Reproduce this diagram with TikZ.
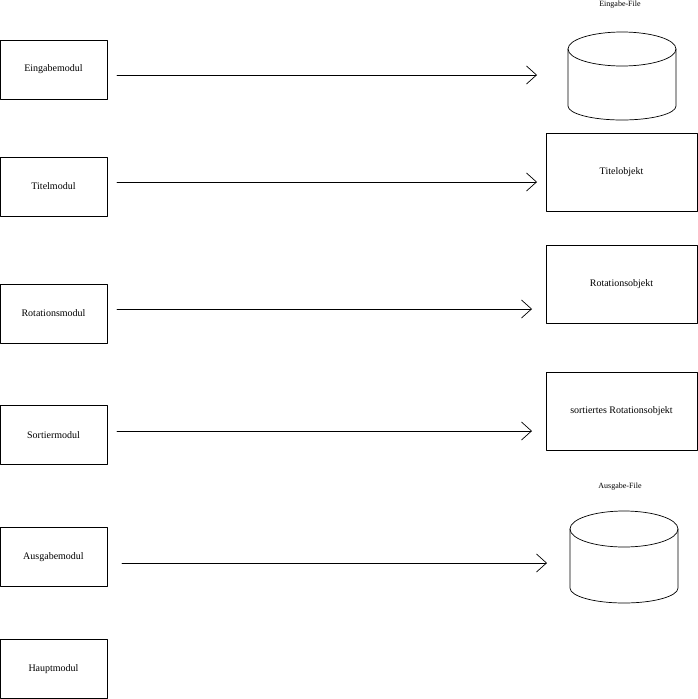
\documentclass[tikz,border=0pt]{standalone}
\usepackage{fontspec}
\setmainfont{Liberation Serif}
\usetikzlibrary{arrows.meta}

\begin{document}
\begin{tikzpicture}[x=1pt, y=-1pt, line cap=round, line join=round,
    modul/.style={draw, line width=0.7pt, minimum width=107pt, minimum height=59pt, inner sep=0pt},
    objekt/.style={draw, line width=0.7pt, minimum width=151pt, minimum height=78pt, inner sep=0pt},
    pfeil/.style={-{Straight Barb[length=10pt,width=18pt]}, line width=0.7pt},
    tonne/.style={line width=0.7pt}]
  \def\rx{54}

  % Rahmen
  \useasboundingbox (0,0) rectangle (698,699);

  % Module links
  \node[modul] (eingabe) at (53.5,69.5) {Eingabemodul};
  \node[modul] (titel)   at (53.5,186.5) {Titelmodul};
  \node[modul] (rotation) at (53.5,313.5) {Rotationsmodul};
  \node[modul] (sortier) at (53.5,435) {Sortiermodul};
  \node[modul] (ausgabe) at (53.5,557) {Ausgabemodul};
  \node[modul] (haupt)   at (53.5,669) {Hauptmodul};

  % Objekte rechts
  \node[objekt] (titelobj) at (621.5,172) {Titelobjekt};
  \node[objekt] (rotobj)   at (621.5,284) {Rotationsobjekt};
  \node[objekt] (sortobj)  at (621.5,411) {sortiertes Rotationsobjekt};

  % Eingabe-File
  \draw[tonne] (622,49) ellipse [x radius=\rx, y radius=17];
  \draw[tonne] (568,49) -- (568,106) arc[start angle=180, end angle=0, x radius=\rx, y radius=14] -- (676,49);
  \node (einfile) at (620,5) {\footnotesize Eingabe-File};

  % Ausgabe-File
  \draw[tonne] (624,529) ellipse [x radius=\rx, y radius=18];
  \draw[tonne] (570,529) -- (570,588) arc[start angle=180, end angle=0, x radius=\rx, y radius=15] -- (678,529);
  \node (ausfile) at (620,487) {\footnotesize Ausgabe-File};

  % Pfeile
  \coordinate (e1) at (117,75);  \coordinate (f1) at (537,75);
  \coordinate (e2) at (117,182); \coordinate (f2) at (537,182);
  \coordinate (e3) at (117,309); \coordinate (f3) at (532,309);
  \coordinate (e4) at (117,431); \coordinate (f4) at (532,431);
  \coordinate (e5) at (122,563); \coordinate (f5) at (547,563);
  \foreach \i in {1,...,5}
    \draw[pfeil] (e\i) -- (f\i);
\end{tikzpicture}
\end{document}
